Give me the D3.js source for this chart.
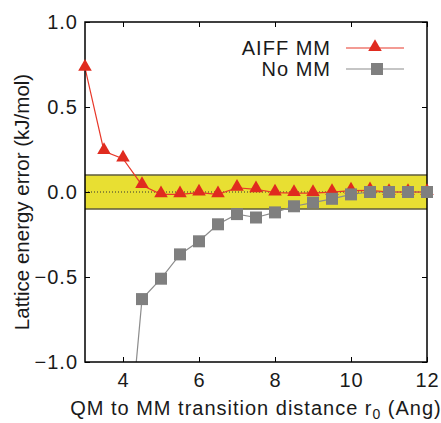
<!DOCTYPE html>
<html>
<head>
<meta charset="utf-8">
<script src="https://cdn.jsdelivr.net/npm/d3@7"></script>
<style>
  body { margin: 0; background: #fff; }
  text { font-family: "Liberation Sans", Arial, sans-serif; fill: #1a1a1a; }
</style>
</head>
<body>
<div class="chart"></div>
<script>
// Data
var distances = [3, 3.5, 4, 4.5, 5, 5.5, 6, 6.5, 7, 7.5, 8, 8.5, 9, 9.5, 10, 10.5, 11, 11.5, 12];
var aiffValues = [0.73, 0.24, 0.196, 0.04, -0.014, -0.014, -0.004, -0.014, 0.025, 0.016,
                  -0.004, -0.007, -0.007, -0.001, 0.008, 0.01, 0.0, 0.0, 0.0];
var noMMDistances = [4, 4.5, 5, 5.5, 6, 6.5, 7, 7.5, 8, 8.5, 9, 9.5, 10, 10.5, 11, 11.5, 12];
var noMMValues = [-1.86, -0.63, -0.51, -0.367, -0.29, -0.19, -0.13, -0.15, -0.12, -0.084,
                  -0.062, -0.04, -0.014, 0.0, 0.0, 0.0, 0.0];
var xTicks = [4, 6, 8, 10, 12];
var yTicks = [-1.0, -0.5, 0.0, 0.5, 1.0];
var bandLimits = [-0.1, 0.1];
var seriesNames = ["AIFF MM", "No MM"];

var width = 441, height = 423;
var margin = {top: 22, right: 14, bottom: 61, left: 85};
var plotW = width - margin.left - margin.right;
var plotH = height - margin.top - margin.bottom;

var x = d3.scaleLinear().domain([3, 12]).range([0, plotW]);
var y = d3.scaleLinear().domain([-1, 1]).range([plotH, 0]);

function inRange(d) { return d[1] >= -1 && d[1] <= 1; }

var svg = d3.select(".chart").append("svg")
    .attr("width", width)
    .attr("height", height);

svg.append("defs").append("clipPath")
    .attr("id", "clip")
  .append("rect")
    .attr("width", plotW)
    .attr("height", plotH);

var g = svg.append("g")
    .attr("transform", "translate(" + margin.left + "," + margin.top + ")");

// Yellow tolerance band
g.append("rect")
    .attr("x", 0)
    .attr("y", y(bandLimits[1]))
    .attr("width", plotW)
    .attr("height", y(bandLimits[0]) - y(bandLimits[1]))
    .attr("fill", "#e8df32");

bandLimits.forEach(function(v) {
    g.append("line")
        .attr("x1", 0).attr("x2", plotW)
        .attr("y1", y(v)).attr("y2", y(v))
        .attr("stroke", "#5e5b3c")
        .attr("stroke-width", 1.5);
});

// Dotted zero line
g.append("line")
    .attr("x1", 0).attr("x2", plotW)
    .attr("y1", y(0)).attr("y2", y(0))
    .attr("stroke", "#333")
    .attr("stroke-width", 1)
    .attr("stroke-dasharray", "1,2");

var line = d3.line()
    .x(function(d) { return x(d[0]); })
    .y(function(d) { return y(d[1]); });

var aiff = distances.map(function(d, i) { return [d, aiffValues[i]]; });
var noMM = noMMDistances.map(function(d, i) { return [d, noMMValues[i]]; });

var lines = g.append("g").attr("clip-path", "url(#clip)");

var triangle = d3.symbol().type(d3.symbolTriangle).size(80);

// No MM series
lines.append("path")
    .datum(noMM)
    .attr("fill", "none")
    .attr("stroke", "#8c8c8c")
    .attr("stroke-width", 1.2)
    .attr("d", line);

// AIFF series
lines.append("path")
    .datum(aiff)
    .attr("fill", "none")
    .attr("stroke", "#e8382a")
    .attr("stroke-width", 1.2)
    .attr("d", line);

// Axes with inward ticks on all four sides
function styleAxis(sel) {
    sel.select(".domain").remove();
    sel.selectAll(".tick line").attr("stroke", "#000").attr("stroke-width", 1);
    sel.selectAll(".tick text")
        .style("font-size", "20px")
        .style("letter-spacing", "1px")
        .attr("fill", "#1a1a1a");
}

g.append("g")
    .attr("transform", "translate(0," + plotH + ")")
    .call(d3.axisBottom(x).tickValues(xTicks).tickSize(-5).tickPadding(11).tickFormat(d3.format("d")))
    .call(styleAxis);

g.append("g")
    .call(d3.axisTop(x).tickValues(xTicks).tickSize(-5).tickFormat(""))
    .call(styleAxis);

g.append("g")
    .call(d3.axisLeft(y).tickValues(yTicks).tickSize(-5).tickPadding(7).tickFormat(d3.format(".1f")))
    .call(styleAxis);

g.append("g")
    .attr("transform", "translate(" + plotW + ",0)")
    .call(d3.axisRight(y).tickValues(yTicks).tickSize(-5).tickFormat(""))
    .call(styleAxis);

// Frame
g.append("rect")
    .attr("width", plotW)
    .attr("height", plotH)
    .attr("fill", "none")
    .attr("stroke", "#000")
    .attr("stroke-width", 1.5);

// Markers (gnuplot draws them unclipped, skipping out-of-range points)
g.selectAll(".tri")
    .data(aiff.filter(inRange))
    .enter().append("path")
        .attr("class", "tri")
        .attr("d", triangle)
        .attr("fill", "#e02b1f")
        .attr("transform", function(d) { return "translate(" + x(d[0]) + "," + (y(d[1]) - 1) + ")"; });

g.selectAll(".sq")
    .data(noMM.filter(inRange))
    .enter().append("rect")
        .attr("class", "sq")
        .attr("x", function(d) { return x(d[0]) - 6; })
        .attr("y", function(d) { return y(d[1]) - 6; })
        .attr("width", 12)
        .attr("height", 12)
        .attr("fill", "#7f7f7f");

// Axis titles
var xTitle = svg.append("text")
    .attr("x", 256)
    .attr("y", 415)
    .attr("text-anchor", "middle")
    .style("font-size", "20px")
    .style("letter-spacing", "1px");
xTitle.append("tspan").text("QM to MM transition distance r");
xTitle.append("tspan").attr("dy", 4).style("font-size", "14px").text("0");
xTitle.append("tspan").attr("dy", -4).text(" (Ang)");

svg.append("text")
    .attr("transform", "translate(29,202) rotate(-90)")
    .attr("text-anchor", "middle")
    .style("font-size", "20.5px")
    .text("Lattice energy error (kJ/mol)");

// Legend
var legend = g.append("g");
var legendRows = [
    {name: seriesNames[0], y: 26, color: "#e8382a", mark: "tri"},
    {name: seriesNames[1], y: 47, color: "#8c8c8c", mark: "sq"}
];
legendRows.forEach(function(r) {
    legend.append("text")
        .attr("x", 246)
        .attr("y", r.y + 7)
        .attr("text-anchor", "end")
        .style("font-size", "20px")
        .style("letter-spacing", "1px")
        .text(r.name);
    legend.append("line")
        .attr("x1", 261).attr("x2", 319)
        .attr("y1", r.y).attr("y2", r.y)
        .attr("stroke", r.color)
        .attr("stroke-width", 1.2);
    if (r.mark === "tri") {
        legend.append("path")
            .attr("d", triangle)
            .attr("fill", "#e02b1f")
            .attr("transform", "translate(290," + (r.y - 1) + ")");
    } else {
        legend.append("rect")
            .attr("x", 286).attr("y", r.y - 6)
            .attr("width", 12).attr("height", 12)
            .attr("fill", "#7f7f7f");
    }
});
</script>
</body>
</html>
